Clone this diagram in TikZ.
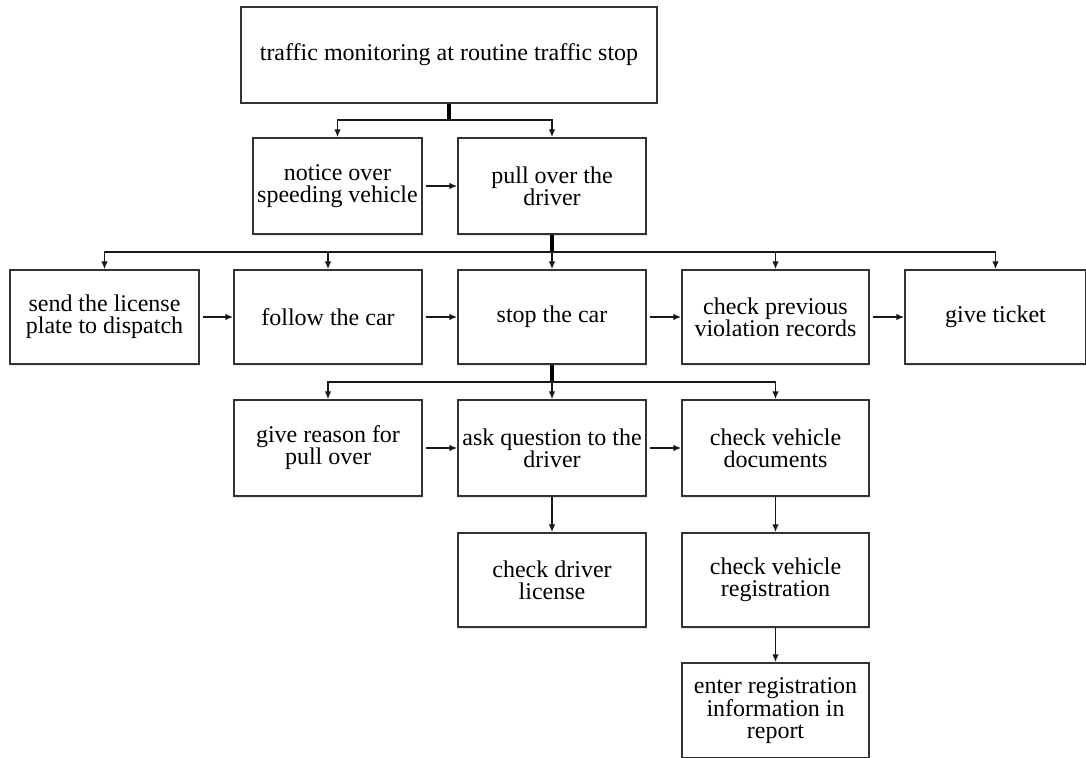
\documentclass[tikz,border=0pt]{standalone}
\usepackage{fontspec}
\setmainfont{Liberation Serif}
\usetikzlibrary{arrows.meta,shadows}
\begin{document}
\begin{tikzpicture}[x=1pt,y=-1pt,
  box/.style={draw=black!80, line width=1.3pt, fill=white, align=center,
    font=\fontsize{24}{22}\selectfont, inner sep=2pt, minimum height=95pt,
    drop shadow={opacity=0.2, shadow xshift=1.2pt, shadow yshift=-1.5pt}},
  arr/.style={draw=black!90, line width=1.6pt, -{Latex[length=8pt,width=6.5pt]}},
  stem/.style={draw=black, line width=4pt}
]
\useasboundingbox (0,0) rectangle (1086,757);
\begin{scope}
\clip (0,0) rectangle (1086,757);
% row 1
\node[box, minimum width=416pt, minimum height=96pt] (top) at (449,55) {traffic monitoring at routine traffic stop};
% row 2
\node[box, minimum width=169pt, minimum height=96pt] (notice) at (337.5,186) {notice over\\speeding vehicle};
\node[box, minimum width=188pt, minimum height=96pt] (pull) at (552,186) {pull over the\\driver};
% row 3
\node[box, minimum width=189pt, minimum height=94pt] (send) at (104.5,317) {send the license\\plate to dispatch};
\node[box, minimum width=188pt, minimum height=94pt] (follow) at (328,317) {follow the car};
\node[box, minimum width=188pt, minimum height=94pt] (stop) at (552,317) {stop the car};
\node[box, minimum width=187pt, minimum height=94pt] (check) at (775.5,317) {check previous\\violation records};
\node[box, minimum width=181pt, minimum height=94pt] (ticket) at (995.5,317) {give ticket};
% row 4
\node[box, minimum width=188pt, minimum height=96pt] (reason) at (328,448) {give reason for\\pull over};
\node[box, minimum width=188pt, minimum height=96pt] (ask) at (552,448) {ask question to the\\driver};
\node[box, minimum width=187pt, minimum height=96pt] (docs) at (775.5,448) {check vehicle\\documents};
% row 5
\node[box, minimum width=188pt, minimum height=94pt] (license) at (552,580) {check driver\\license};
\node[box, minimum width=187pt, minimum height=94pt] (reg) at (775.5,580) {check vehicle\\registration};
% row 6
\node[box, minimum width=187pt, minimum height=95pt] (enter) at (775.5,710.5) {enter registration\\information in\\report};

% split points
\coordinate (s1) at (449,120);
\coordinate (s2) at (552,252);
\coordinate (s3) at (552,382);

% split 1
\draw[stem] (top.south) -- (s1);
\draw[arr] (s1) -| (notice.north);
\draw[arr] (s1) -| (pull.north);
% split 2
\draw[stem] (pull.south) -- (s2);
\draw[arr] (s2) -| (send.north);
\draw[arr] (s2) -| (follow.north);
\draw[arr] (s2) -- (stop.north);
\draw[arr] (s2) -| (check.north);
\draw[arr] (s2) -| (ticket.north);
% split 3
\draw[stem] (stop.south) -- (s3);
\draw[arr] (s3) -| (reason.north);
\draw[arr] (s3) -- (ask.north);
\draw[arr] (s3) -| (docs.north);

% horizontal arrows
\draw[arr, shorten <=3pt] (notice.east) -- (pull.west);
\draw[arr, shorten <=3pt] (send.east) -- (follow.west);
\draw[arr, shorten <=3pt] (follow.east) -- (stop.west);
\draw[arr, shorten <=3pt] (stop.east) -- (check.west);
\draw[arr, shorten <=3pt] (check.east) -- (ticket.west);
\draw[arr, shorten <=3pt] (reason.east) -- (ask.west);
\draw[arr, shorten <=3pt] (ask.east) -- (docs.west);

% vertical arrows
\draw[arr] (ask.south) -- (license.north);
\draw[arr] (docs.south) -- (reg.north);
\draw[arr] (reg.south) -- (enter.north);
\end{scope}
\end{tikzpicture}
\end{document}
